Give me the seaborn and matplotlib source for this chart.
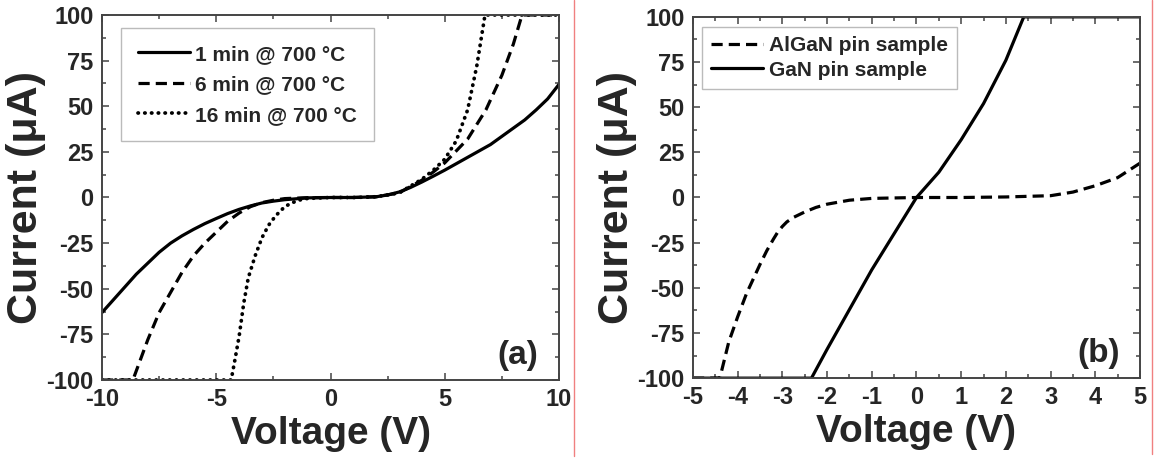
import numpy as np
import pandas as pd
import seaborn as sns
import matplotlib.pyplot as plt
from matplotlib.lines import Line2D
from matplotlib.ticker import MultipleLocator

# --- datos panel (a): recocido a 700 C ---
v_1min = [-10, -9.5, -9, -8.5, -8, -7.5, -7, -6.5, -6, -5.5, -5, -4.5, -4, -3.5, -3, -2.5, -2, -1, 0,
          1, 2, 2.5, 3, 3.5, 4, 4.5, 5, 5.5, 6, 6.5, 7, 7.5, 8, 8.5, 9, 9.5, 10]
i_1min = [-63, -56, -49, -42, -36, -30, -25, -21, -17.5, -14.3, -11.5, -8.8, -6.5, -4.6, -3, -2, -1.2, -0.2, 0,
          0, 0.4, 1.4, 3, 5.5, 8.5, 11.7, 15, 18.5, 22, 25.5, 29, 33.5, 38, 42.5, 48, 54, 62]

v_6min = [-10, -8.65, -8, -7.5, -7, -6.5, -6, -5.5, -5, -4.5, -4, -3.5, -3, -2.5, -2, -1, 0, 1, 2,
          3, 4, 4.5, 5, 6, 6.8, 7.5, 8, 8.38, 10]
i_6min = [-100, -100, -78, -63, -52, -41, -32, -25, -19, -13, -8.5, -5, -2.8, -1.5, -0.6, -0.1, 0, 0, 0.4,
          2.5, 9.5, 14, 19, 32, 48, 67, 84, 100, 100]

v_16min = [-10, -4.35, -4.2, -4.0, -3.8, -3.6, -3.3, -3.0, -2.7, -2.4, -2.0, -1.7, -1.4, -1, 0, 1, 2,
           3, 4, 4.5, 5, 5.5, 6, 6.4, 6.76, 10]
i_16min = [-100, -100, -90, -76, -58, -44, -32, -22, -15, -10, -5, -3, -1.5, -0.5, 0, 0, 0.4,
           2.5, 10, 15, 21, 31, 48, 72, 100, 100]

# --- datos panel (b): muestras pin ---
v_gan = [-5, -2.35, -2, -1.5, -1, -0.5, 0, 0.5, 1, 1.5, 2, 2.4, 5]
i_gan = [-100, -100, -84, -62, -40, -20, 0, 14, 32, 52, 76, 100, 100]

v_algan = [-5, -4.4, -4.2, -4.0, -3.8, -3.5, -3.35, -3.2, -3.1, -3.0, -2.9, -2.75, -2.5, -2.25, -2.0,
           -1.5, -1, 0, 1, 2, 3, 3.5, 4, 4.5, 5]
i_algan = [-100, -100, -80, -66, -53, -37, -29.5, -23, -19, -16, -13.5, -11, -8, -5.5, -3.7,
           -1.5, -0.5, 0, 0, 0.3, 1, 3, 6.5, 11, 19]

leyenda_a = ['1 min @ 700 \u00b0C', '6 min @ 700 \u00b0C', '16 min @ 700 \u00b0C']
leyenda_b = ['AlGaN pin sample', 'GaN pin sample']

sns.set_style('ticks')
plt.rcParams['font.family'] = ['Liberation Sans', 'DejaVu Sans']
plt.rcParams['font.weight'] = 'bold'
plt.rcParams['axes.unicode_minus'] = False

fig = plt.figure(figsize=(11.61, 4.68), dpi=100)
ax1 = fig.add_axes([0.0879, 0.188, 0.3936, 0.78])
ax2 = fig.add_axes([0.5969, 0.192, 0.3850, 0.772])

lw = 2.3
dashed = (0, (3.5, 1.9))
dotted = (0, (0.1, 1.7))

# panel (a)
sns.lineplot(x=v_1min, y=i_1min, ax=ax1, color='black', lw=lw, sort=False, estimator=None,
             label=leyenda_a[0])
sns.lineplot(x=v_6min, y=i_6min, ax=ax1, color='black', lw=lw, linestyle=dashed, sort=False,
             estimator=None, label=leyenda_a[1])
sns.lineplot(x=v_16min, y=i_16min, ax=ax1, color='black', lw=2.7, linestyle=dotted,
             dash_capstyle='round', sort=False, estimator=None, label=leyenda_a[2])

# panel (b)
sns.lineplot(x=v_algan, y=i_algan, ax=ax2, color='black', lw=lw, linestyle=dashed, sort=False,
             estimator=None, label=leyenda_b[0])
sns.lineplot(x=v_gan, y=i_gan, ax=ax2, color='black', lw=lw, sort=False, estimator=None,
             label=leyenda_b[1])

paneles = [(ax1, (-10, 10), 5, 2.5, '(a)', (0.042, 0.964), 0.8, 0.55),
           (ax2, (-5, 5), 1, 0.5, '(b)', (0.02, 0.972), 0.45, 0.25)]
for ax, xlim, xmaj, xmin, tag, anchor, bpad, lspace in paneles:
    ax.set_xlim(*xlim)
    ax.set_ylim(-100, 100)
    ax.xaxis.set_major_locator(MultipleLocator(xmaj))
    ax.xaxis.set_minor_locator(MultipleLocator(xmin))
    ax.yaxis.set_major_locator(MultipleLocator(25))
    ax.yaxis.set_minor_locator(MultipleLocator(12.5))
    ax.tick_params(which='both', direction='in', top=True, right=True, color='#444444', width=1.1)
    ax.tick_params(which='major', length=5, labelsize=17, pad=6)
    ax.tick_params(which='minor', length=3)
    for s in ax.spines.values():
        s.set_color('#444444')
        s.set_linewidth(1.4)
    ax.set_xlabel('Voltage (V)', fontsize=28, fontweight='bold', labelpad=3)
    ax.set_ylabel('Current (\u03bcA)', fontsize=31, fontweight='bold', labelpad=0)
    ax.text(0.955, 0.025, tag, transform=ax.transAxes, ha='right', va='bottom',
            fontsize=24, fontweight='bold')
    leg = ax.legend(loc='upper left', bbox_to_anchor=anchor, borderaxespad=0,
                    frameon=True, fancybox=False, fontsize=15, handlelength=2.5,
                    handletextpad=0.25, labelspacing=lspace, borderpad=bpad)
    leg.get_frame().set_edgecolor('#aaaaaa')
    leg.get_frame().set_linewidth(1.0)
    for t in leg.get_texts():
        t.set_fontweight('bold')

# lineas rojas de separacion
fig.add_artist(Line2D([574 / 1161, 574 / 1161], [1, 1 - 456 / 468], color='#f08080', lw=1))
fig.add_artist(Line2D([1152 / 1161, 1152 / 1161], [1, 1 - 454 / 468], color='#f08080', lw=1))

fig.savefig('out.png', dpi=100)
